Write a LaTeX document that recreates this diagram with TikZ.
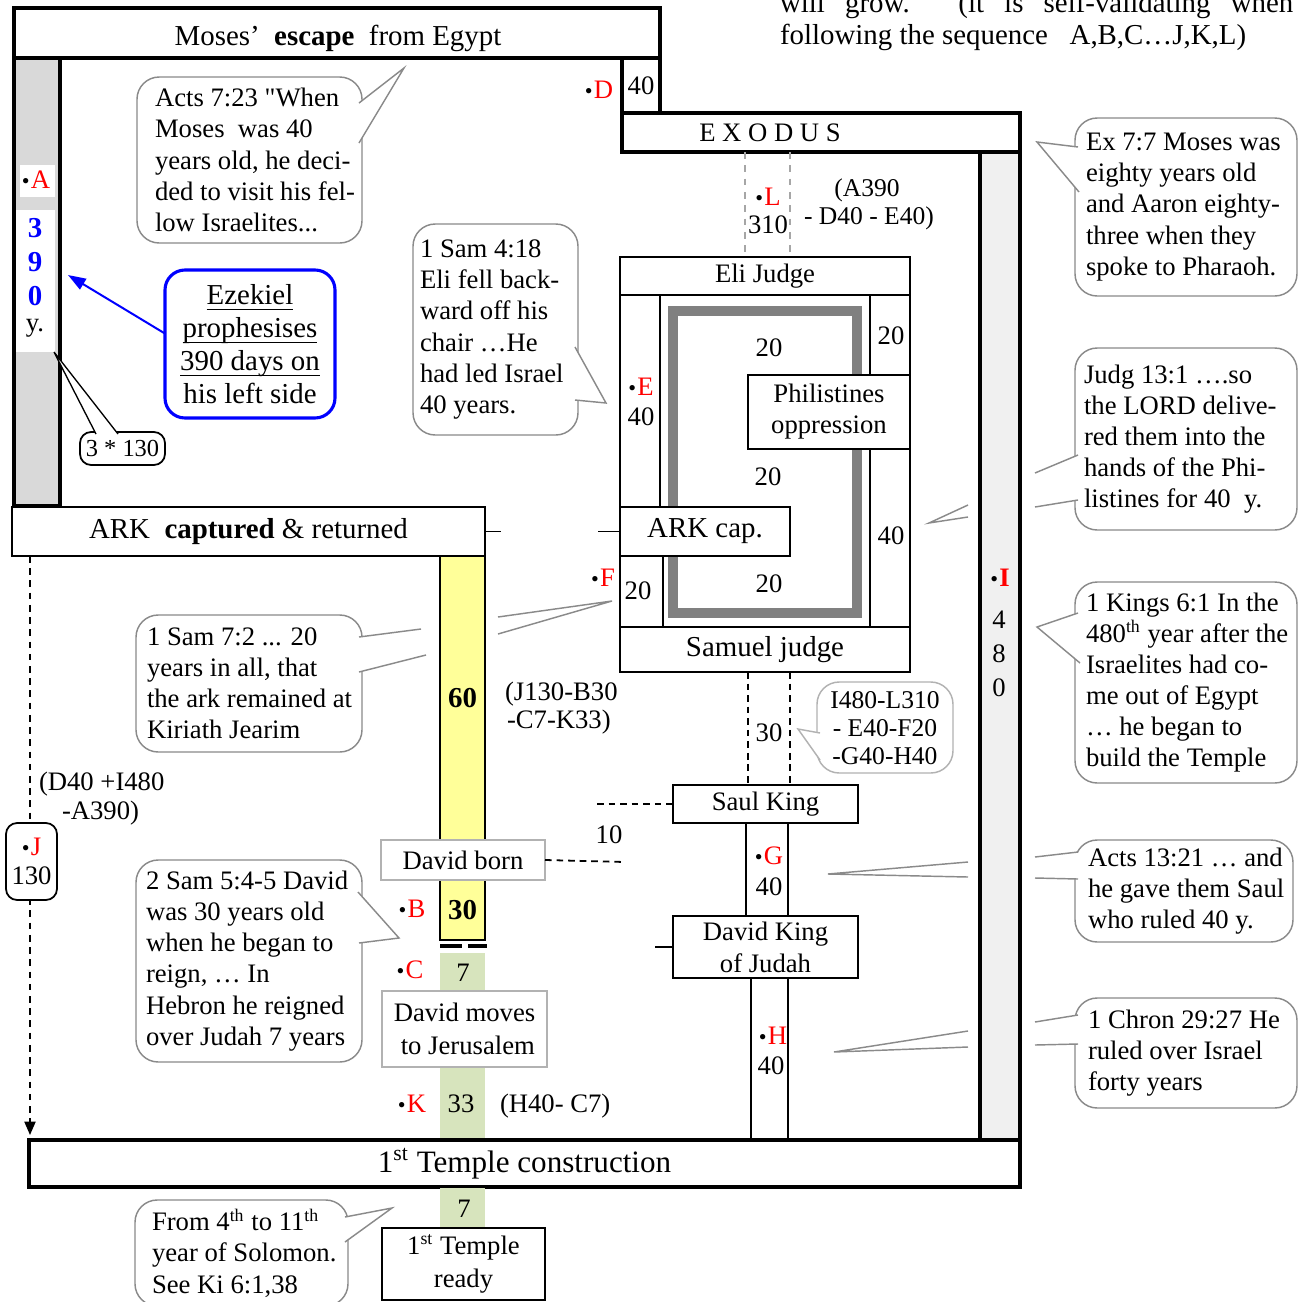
\documentclass[tikz,border=0pt]{standalone}
\usepackage{fontspec}
\setmainfont{Liberation Serif}
\usetikzlibrary{arrows.meta}
\definecolor{cgray}{HTML}{8A8A8A}
\definecolor{lgray}{HTML}{D9D9D9}
\definecolor{vlgray}{HTML}{F0F0F0}
\definecolor{ybarc}{HTML}{FFFF99}
\definecolor{gbarc}{HTML}{D7E4BD}
\definecolor{rgray}{HTML}{808080}
\definecolor{mblue}{HTML}{0000FF}
\definecolor{mred}{HTML}{FF0000}
\newcommand{\Bx}[7]{\node[#1, minimum width={(#4-#2)*0.45pt}, minimum height={(#5-#3)*0.45pt}] (#6) at ({(#2+#4)/2},{(#3+#5)/2}) {#7};}
\newcommand{\Callout}[7]{\draw[cbox] (#2,#3) rectangle (#4,#5); \node[anchor=west, align=left] (#1) at (#6,{(#3+#5)/2}) {#7};}
\newcommand{\Tail}[6]{\fill[white] (#1,#2) -- (#3,#4) -- (#5,#6) -- cycle; \draw[ctail] (#1,#2) -- (#3,#4) -- (#5,#6);}
\newcommand{\lbl}[1]{{\fontsize{10}{10}\selectfont\textbullet}\kern0.6pt\textcolor{mred}{#1}}
\newcommand{\uln}[1]{\setbox0\hbox{#1}\rlap{\rule[-2.6pt]{\wd0}{0.6pt}}\box0}
\newcommand{\sq}{{\addfontfeatures{Ligatures=TeXOff}"}}
\begin{document}
\begin{tikzpicture}[x=0.45pt,y=-0.45pt,
 every node/.style={inner sep=0pt, outer sep=0pt, font=\fontsize{12}{14}\selectfont},
 tbox/.style={draw, line width=1.4pt, fill=white},
 nbox/.style={draw, line width=0.8pt, fill=white, align=center},
 gbox/.style={draw=black!30, line width=1pt, fill=white, align=center, font=\fontsize{12}{15}\selectfont},
 cbox/.style={draw=cgray, line width=0.65pt, fill=white, rounded corners=10pt},
 ctail/.style={draw=cgray, line width=0.65pt},
 ddash/.style={line width=0.8pt, dash pattern=on 3pt off 2.2pt},
]
\useasboundingbox (0,0) rectangle (1299,1302);
\fill[white] (0,0) rectangle (1299,1302);

% ===== top text
\node[anchor=base west, font=\fontsize{13}{15}\selectfont] (topl1) at (780,12) {\makebox[231pt][s]{will grow. (it is self-validating when}};
\node[anchor=base west, font=\fontsize{13}{15}\selectfont] (topl2) at (780,44) {following the sequence\ \ \ A,B,C…J,K,L)};

% ===== callouts
\Callout{cActs}{137}{77}{362}{243}{155}{Acts 7:23 \sq When\\Moses\ \ was 40\\years old, he deci-\\ded to visit his fel-\\low Israelites...}
\Tail{359}{103}{404}{68}{359}{143}

\Callout{cEli}{413}{224}{578}{435}{420}{1 Sam 4:18\\Eli fell back-\\ward off his\\chair …He\\had led Israel\\40 years.}
\Tail{575}{347}{606}{403}{575}{400}

\Callout{cArk}{136}{615}{362}{752}{147}{1 Sam 7:2 ... 20\\years in all, that\\the ark remained at\\Kiriath Jearim}
\fill[white] (359,637) -- (421,629) -- (426,655) -- (359,672) -- cycle;
\draw[ctail] (359,637) -- (421,629) (426,655) -- (359,672);
\draw[ctail] (498,617) -- (612,601) -- (498,634);

\Callout{cDav}{136}{860}{362}{1062}{146}{2 Sam 5:4-5 David\\was 30 years old\\when he began to\\reign, … In\\Hebron he reigned\\over Judah 7 years}
\Tail{358}{892}{399}{938}{359}{943}

\Callout{cSol}{135}{1200}{348}{1306}{152}{From 4\textsuperscript{th} to 11\textsuperscript{th}\\year of Solomon.\\See Ki 6:1,38}
\Tail{345}{1217}{392}{1208}{345}{1242}

\Callout{cEx}{1075}{118}{1297}{296}{1086}{Ex 7:7 Moses was\\eighty years old\\and Aaron eighty-\\three when they\\spoke to Pharaoh.}
\Tail{1078}{147}{1037}{142}{1079}{192}

\Callout{cJudg}{1075}{348}{1297}{530}{1084}{Judg 13:1 ….so\\the LORD delive-\\red them into the\\hands of the Phi-\\listines for 40\ \ y.}
\fill[white] (1078,455) -- (1035,473) -- (1035,507) -- (1078,500) -- cycle;
\draw[ctail] (1078,455) -- (1035,473) (1035,507) -- (1078,500);
\draw[ctail] (968,505) -- (929,523) -- (968,517);

\Callout{cKings}{1075}{582}{1297}{783}{1086}{1 Kings 6:1 In the\\480\textsuperscript{th} year after the\\Israelites had co-\\me out of Egypt\\… he began to\\build the Temple}
\Tail{1078}{613}{1037}{627}{1080}{663}

\Callout{cSaul}{1075}{840}{1293}{942}{1088}{Acts 13:21 … and\\he gave them Saul\\who ruled 40 y.}
\fill[white] (1078,852) -- (1035,857) -- (1035,878) -- (1078,879) -- cycle;
\draw[ctail] (1078,852) -- (1035,857) (1035,878) -- (1078,879);
\draw[ctail] (968,862) -- (828,874) -- (968,877);

\Callout{cChron}{1075}{998}{1297}{1108}{1088}{1 Chron 29:27 He\\ruled over Israel\\forty years}
\fill[white] (1078,1015) -- (1035,1022) -- (1035,1045) -- (1078,1044) -- cycle;
\draw[ctail] (1078,1015) -- (1035,1022) (1035,1045) -- (1078,1044);
\draw[ctail] (968,1031) -- (834,1052) -- (968,1047);

\draw[cbox, draw=black!30] (817,682) rectangle (953,773);
\node[align=center, font=\fontsize{11.5}{12.6}\selectfont] (cI) at (885,728) {I480-L310\\- E40-F20\\-G40-H40};
\fill[white] (820,733) -- (798,729) -- (820,760) -- cycle;
\draw[ctail, draw=black!30] (820,733) -- (798,729) -- (820,760);

% ===== title and left bar
\Bx{tbox}{14}{8}{660}{58}{title}{}
\node[font=\fontsize{13}{15}\selectfont] (titletxt) at (338,38) {Moses’\ \ \textbf{escape}\ \ from Egypt};
\Bx{draw, line width=1.4pt, fill=lgray}{14}{58}{60}{506}{lbar}{}
\fill[white] (20,165) rectangle (55,197);
\fill[white] (16,210) rectangle (55,352);
\node (lA) at (36,180) {\lbl{A}};
\node[font=\fontsize{13}{15}\selectfont\bfseries, text=mblue] (n3) at (35,228) {3};
\node[font=\fontsize{13}{15}\selectfont\bfseries, text=mblue] (n9) at (35,262) {9};
\node[font=\fontsize{13}{15}\selectfont\bfseries, text=mblue] (n0) at (35,296) {0};
\node (ny) at (35,328) {y.};

% 3*130
\Bx{draw, line width=0.8pt, fill=white, rounded corners=5pt, font=\fontsize{11}{13}\selectfont}{80}{432}{165}{465}{b130}{3 * 130}
\coordinate (t130) at (54,352);
\fill[white] (96,434) -- (t130) -- (118,434) -- cycle;
\draw[line width=0.6pt] (96,434) -- (t130) -- (118,434);

% Ezekiel
\node[draw=mblue, line width=1.4pt, rounded corners=9pt, fill=white, align=center, minimum width={170*0.45pt}, minimum height={148*0.45pt}, font=\fontsize{13}{14.8}\selectfont] (ezek) at (250,344) {\uln{Ezekiel}\\\uln{prophesises}\\\uln{390 days on}\\his left side};
\coordinate (arrtip) at (68,275);
\draw[mblue, line width=0.9pt, -{Triangle[length=8pt,width=5.5pt]}] (ezek.173) -- (arrtip);

% D and EXODUS
\Bx{tbox}{622}{58}{660}{113}{dbox}{40}
\node (lD) at (599,90) {\lbl{D}};
\Bx{tbox}{622}{113}{1020}{152}{exodus}{}
\node (exodustxt) at (770,133) {E\hspace{3pt}X\hspace{3pt}O\hspace{3pt}D\hspace{3pt}U\hspace{3pt}S};

% 480 bar
\Bx{draw, line width=1.4pt, fill=vlgray}{980}{152}{1020}{1140}{ibar}{}
\node (lI) at (1000,578) {\lbl{\textbf{I}}};
\node (i4) at (999,620) {4};
\node (i8) at (999,654) {8};
\node (i0) at (999,688) {0};

% L column
\draw[black!35, line width=0.8pt, dashed] (745,152) -- (745,258);
\draw[black!35, line width=0.8pt, dashed] (790,152) -- (790,258);
\node (lL) at (768,197) {\lbl{L}};
\node (l310) at (768,225) {310};
\node[font=\fontsize{11.5}{13}\selectfont] (a390) at (867,190) {(A390};
\node[font=\fontsize{11.5}{13}\selectfont, anchor=west] (d40e40) at (804,218) {- D40 - E40)};

% Eli block
\Bx{nbox}{620}{257}{910}{295}{eli}{Eli Judge}
\Bx{nbox}{620}{295}{660}{507}{ecol}{}
\Bx{nbox}{620}{556}{663}{627}{fcol}{}
\Bx{nbox}{870}{295}{910}{375}{rcolA}{}
\Bx{nbox}{870}{449}{910}{627}{rcolB}{}
\draw[rgray, line width=4.5pt] (673,311) rectangle (857,613);
\Bx{nbox}{748}{375}{910}{449}{phil}{Philistines\\oppression}
\Bx{nbox, font=\fontsize{13}{15}\selectfont}{620}{507}{790}{556}{arkcap}{ARK cap.}
\Bx{nbox, font=\fontsize{13}{15}\selectfont}{620}{627}{910}{672}{samuel}{Samuel judge}
\node (lE) at (641,387) {\lbl{E}};
\node (e40) at (641,417) {40};
\node (lF) at (603,578) {\lbl{F}};
\node (f20) at (638,591) {20};
\node (r20) at (891,336) {20};
\node (r40) at (891,536) {40};
\node (m20a) at (769,348) {20};
\node (m20b) at (768,477) {20};
\node (m20c) at (769,584) {20};

% ARK captured
\Bx{draw, line width=1pt, fill=white, font=\fontsize{13}{15}\selectfont}{12}{507}{485}{556}{arkbox}{ARK\ \ \textbf{captured} \& returned}
\draw[line width=0.8pt] (arkbox.east) -- ++(16,0);
\draw[line width=0.8pt] (arkcap.west) -- ++(-22,0);

% J line
\coordinate (jend) at (30,1135);
\draw[line width=0.7pt, dash pattern=on 3pt off 2.5pt, -{Triangle[length=6pt,width=5pt]}] (arkbox.south west -| jend) -- (jend);
\Bx{draw, line width=0.8pt, fill=white, rounded corners=5pt, align=center, font=\fontsize{12}{13}\selectfont}{6}{823}{57}{900}{jbox}{\lbl{J}\\130}
\node[anchor=west] (dA1) at (39,784) {(D40 +I480};
\node[anchor=west] (dA2) at (62,813) {-A390)};

% under Samuel
\draw[ddash] (748,672) -- (748,785);
\draw[ddash] (790,672) -- (790,785);
\node (s30) at (769,733) {30};
\Bx{nbox}{673}{785}{858}{823}{saul}{Saul King}
\coordinate (saulL) at (597,804);
\draw[ddash] (saulL) -- (saul.west);
\node (ten) at (609,835) {10};
\Bx{nbox}{746}{823}{788}{916}{gcol}{}
\node (lG) at (769,856) {\lbl{G}};
\node (g40) at (769,887) {40};
\Bx{nbox, font=\fontsize{12}{14.5}\selectfont}{673}{916}{858}{978}{dking}{David King\\of Judah}
\draw[line width=0.8pt] (dking.west) -- ++(-18,0);
\Bx{nbox}{751}{978}{788}{1140}{hcol}{}
\node (lH) at (773,1036) {\lbl{H}};
\node (h40) at (771,1066) {40};

% yellow / green column
\Bx{draw, line width=1pt, fill=ybarc, font=\fontsize{13}{15}\selectfont\bfseries}{440}{556}{485}{840}{ybar}{60}
\node[anchor=west] (j130a) at (505,694) {(J130-B30};
\node[anchor=west] (j130b) at (507,722) {-C7-K33)};
\Bx{draw, line width=1pt, fill=ybarc, font=\fontsize{13}{15}\selectfont\bfseries}{440}{880}{485}{940}{ybarb}{30}
\Bx{gbox}{381}{840}{545}{880}{dborn}{David born}
\coordinate (dbornR) at (625,862);
\draw[ddash] (dborn.east) -- (dbornR);
\node (lB) at (412,909) {\lbl{B}};
\draw[line width=1.6pt, dash pattern=on 10pt off 2.7pt] (440,946) -- (487,946);
\fill[gbarc] (440,953) rectangle (485,1140);
\node (lC) at (410,970) {\lbl{C}};
\node (c7) at (463,973) {7};
\Bx{gbox}{382}{991}{547}{1067}{dmoves}{David moves\\\ to Jerusalem}
\node (lK) at (412,1104) {\lbl{K}};
\node (k33) at (461,1104) {33};
\node[anchor=west] (h40c7) at (500,1106) {(H40- C7)};

% Temple
\Bx{tbox, font=\fontsize{14}{16}\selectfont}{29}{1140}{1020}{1187}{temple}{1\textsuperscript{st} Temple construction}
\fill[gbarc] (440,1188) rectangle (485,1228);
\node (t7) at (464,1209) {7};
\Bx{nbox, line width=1pt, font=\fontsize{12}{15}\selectfont}{382}{1228}{545}{1300}{tready}{1\textsuperscript{st} Temple\\ready}
\end{tikzpicture}
\end{document}
